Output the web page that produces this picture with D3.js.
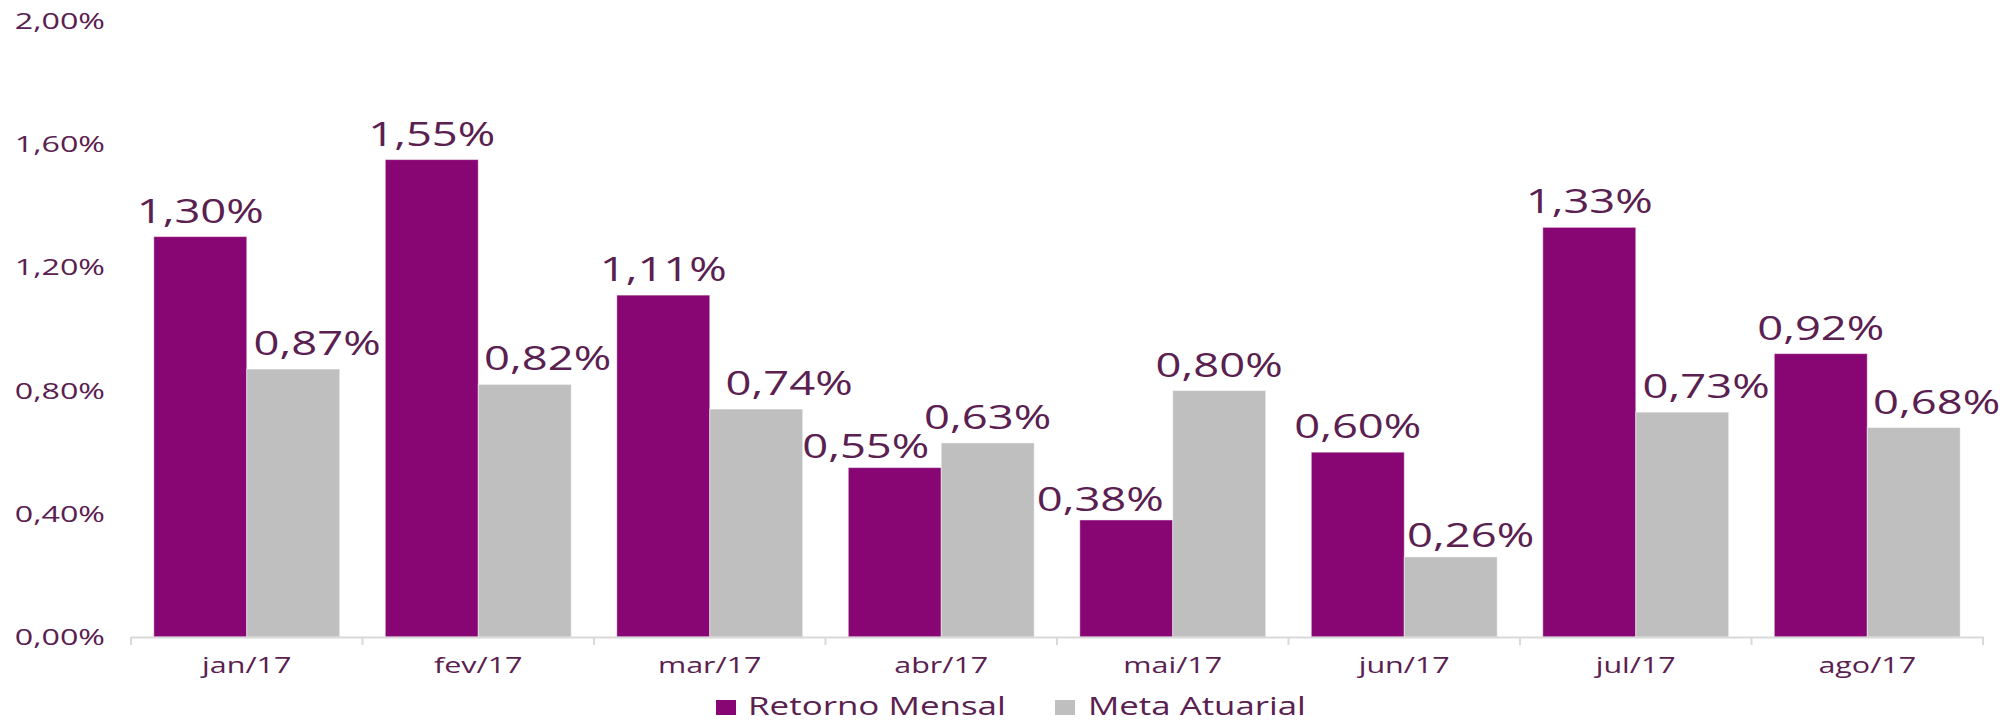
<!DOCTYPE html>
<html>
<head>
<meta charset="utf-8">
<script src="https://cdn.jsdelivr.net/npm/d3@7"></script>
<style>
  html, body { margin: 0; padding: 0; background: #fff; }
  svg { display: block; }
  text { font-family: "Open Sans", sans-serif; fill: #5a2050; }
</style>
</head>
<body>
<svg id="chart" width="2008" height="721"></svg>
<script>
// ---- data ----
const categories = ["jan/17", "fev/17", "mar/17", "abr/17", "mai/17", "jun/17", "jul/17", "ago/17"];
const seriesNames = ["Retorno Mensal", "Meta Atuarial"];
const retornoMensal = [1.30, 1.55, 1.11, 0.55, 0.38, 0.60, 1.33, 0.92];
const metaAtuarial = [0.87, 0.82, 0.74, 0.63, 0.80, 0.26, 0.73, 0.68];
const yTicks = [0, 0.4, 0.8, 1.2, 1.6, 2.0];

// ---- layout / style ----
const colors = ["#880673", "#bfbfbf"];
const svg = d3.select("#chart");

const x = d3.scaleBand().domain(categories).range([131, 1983])
  .paddingInner(0.197).paddingOuter(0.0985);
const xs = d3.scaleBand().domain(seriesNames).range([0, x.bandwidth()]);
const y = d3.scaleLinear().domain([0, 2.0]).range([637, 21]);

const fmt = v => v.toFixed(2).replace(".", ",") + "%";

function stretchedText(g, tx, ty, str, size, anchor, sx) {
  return g.append("text")
    .attr("transform", `translate(${tx},${ty}) scale(${sx},1)`)
    .attr("text-anchor", anchor)
    .style("font-size", size + "px")
    .text(str);
}

// y tick labels (no axis line)
const yg = svg.append("g");
yTicks.forEach(t => {
  stretchedText(yg, 105, y(t) + 8, fmt(t), 22.4, "end", 1.44);
});

// bars
const rows = categories.map((c, i) => ({ cat: c, vals: [retornoMensal[i], metaAtuarial[i]] }));
const groups = svg.append("g").selectAll("g").data(rows).join("g")
  .attr("transform", d => `translate(${x(d.cat)},0)`);
groups.selectAll("rect").data(d => d.vals.map((v, k) => ({ v, k })))
  .join("rect")
  .attr("x", d => xs(seriesNames[d.k]))
  .attr("width", xs.bandwidth())
  .attr("y", d => y(d.v))
  .attr("height", d => y(0) - y(d.v))
  .attr("fill", d => colors[d.k])
  .attr("stroke", "rgba(255,255,255,0.45)")
  .attr("stroke-width", 1);

// x axis
const xAxis = d3.axisBottom(x).tickSize(0).tickPadding(0).tickFormat("");
const xa = svg.append("g").attr("transform", `translate(0,${y(0)})`).call(xAxis);
xa.select(".domain").attr("stroke", "#d9d9d9").attr("stroke-width", 2);
const step = x.step();
const bounds = d3.range(categories.length + 1).map(i => x.range()[0] + i * step);
xa.selectAll("line.bound").data(bounds).join("line").attr("class", "bound")
  .attr("x1", d => d).attr("x2", d => d).attr("y1", 0).attr("y2", 8)
  .attr("stroke", "#d9d9d9").attr("stroke-width", 2);
categories.forEach(c => {
  stretchedText(svg, x(c) + x.bandwidth() / 2, 673, c, 22.4, "middle", 1.36);
});

// value labels (manual nudges as in the reference)
const nudge = {
  "0|abr/17": [-29, 4], "0|mai/17": [-26, 5],
  "1|jan/17": [24, 0], "1|fev/17": [23, 0], "1|mar/17": [33, 0],
  "1|jun/17": [20, 4], "1|jul/17": [24, 0], "1|ago/17": [23, 0]
};
const lg = svg.append("g");
rows.forEach(r => {
  r.vals.forEach((v, k) => {
    const n = nudge[k + "|" + r.cat] || [0, 0];
    const cx = x(r.cat) + xs(seriesNames[k]) + xs.bandwidth() / 2 + n[0];
    stretchedText(lg, cx, y(v) - 14 + n[1], fmt(v), 32, "middle", 1.42);
  });
});

// legend
const leg = svg.append("g");
const legItems = [{ sx: 716, tx: 748, w: 258 }, { sx: 1055, tx: 1088, w: 218 }];
legItems.forEach((it, k) => {
  leg.append("rect").attr("x", it.sx).attr("y", 700).attr("width", 20).attr("height", 15)
    .attr("fill", colors[k]);
  const t = stretchedText(leg, it.tx, 715, seriesNames[k], 25, "start", 1);
  const len = t.node().getComputedTextLength();
  t.attr("transform", `translate(${it.tx},715) scale(${it.w / len},1)`);
});
</script>
</body>
</html>
